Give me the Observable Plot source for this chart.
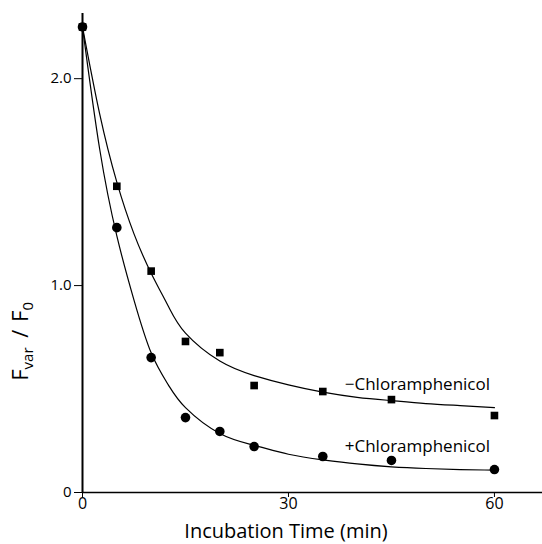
<!DOCTYPE html>
<html>
<head>
<meta charset="utf-8">
<script src="https://cdn.jsdelivr.net/npm/d3@7"></script>
<script src="https://cdn.jsdelivr.net/npm/@observablehq/plot@0.6"></script>
<style>
  body { margin: 0; background: #fff; }
  #chart { width: 542px; height: 544px; }
</style>
</head>
<body>
<div id="chart"></div>
<script>
// Measured points (incubation time in min, Fvar/F0)
const timesMinus = [0, 5, 10, 15, 20, 25, 35, 45, 60];
const valuesMinus = [2.25, 1.48, 1.07, 0.73, 0.676, 0.517, 0.488, 0.449, 0.372];
const timesPlus = [0, 5, 10, 15, 20, 25, 35, 45, 60];
const valuesPlus = [2.25, 1.28, 0.652, 0.362, 0.295, 0.222, 0.174, 0.155, 0.111];

// Fitted curves
const curveTimes = [0, 2.5, 5, 7.5, 10, 12.5, 15, 20, 25, 30, 35, 40, 45, 50, 55, 60];
const curveMinus = [2.25, 1.83, 1.50, 1.25, 1.06, 0.90, 0.77, 0.635, 0.565, 0.52, 0.485, 0.46, 0.444, 0.43, 0.42, 0.41];
const curvePlus  = [2.25, 1.66, 1.24, 0.93, 0.675, 0.52, 0.41, 0.285, 0.228, 0.185, 0.158, 0.138, 0.124, 0.116, 0.111, 0.108];

// Series labels
const labelTexts = ["\u2212Chloramphenicol", "+Chloramphenicol"];
const labelX = [38.2, 38.2];
const labelY = [0.52, 0.222];

const xTicks = [0, 30, 60];
const yTicks = [0, 1, 2];

const ptsMinus = timesMinus.map((t, i) => ({t, v: valuesMinus[i]}));
const ptsPlus = timesPlus.map((t, i) => ({t, v: valuesPlus[i]}));
const lnMinus = curveTimes.map((t, i) => ({t, v: curveMinus[i]}));
const lnPlus = curveTimes.map((t, i) => ({t, v: curvePlus[i]}));
const labels = labelTexts.map((text, i) => ({text, x: labelX[i], y: labelY[i]}));

const X_MAX = 67, Y_MAX = 2.315;

const plot = Plot.plot({
  width: 542,
  height: 544,
  marginLeft: 82,
  marginRight: 0,
  marginTop: 13,
  marginBottom: 52,
  style: {fontFamily: "'Open Sans', sans-serif", background: "white", color: "black"},
  x: {domain: [0, X_MAX]},
  y: {domain: [0, Y_MAX]},
  marks: [
    Plot.ruleX([0], {y1: 0, y2: Y_MAX, strokeWidth: 2}),
    Plot.ruleY([0], {x1: 0, x2: X_MAX, strokeWidth: 1.6}),
    Plot.axisX({ticks: xTicks, tickFormat: d => String(d), tickSize: 5, tickPadding: 0, fontSize: 16, label: null}),
    Plot.axisY({ticks: yTicks, tickFormat: d => d === 0 ? "0" : d.toFixed(1), tickSize: 8, tickPadding: 3, fontSize: 15, label: null}),
    Plot.line(lnMinus, {x: "t", y: "v", curve: "natural", strokeWidth: 1.2}),
    Plot.line(lnPlus, {x: "t", y: "v", curve: "natural", strokeWidth: 1.2}),
    Plot.dot(ptsMinus, {x: "t", y: "v", symbol: "square", r: 4.3, fill: "black", stroke: "none"}),
    Plot.dot(ptsPlus, {x: "t", y: "v", symbol: "circle", r: 4.8, fill: "black", stroke: "none"}),
    Plot.text(labels, {x: "x", y: "y", text: "text", textAnchor: "start", fontSize: 17})
  ]
});

const svg = d3.select(plot);
// x axis title
svg.append("text")
  .attr("x", 286).attr("y", 538)
  .attr("text-anchor", "middle")
  .attr("font-size", 20)
  .attr("font-family", "'Open Sans', sans-serif")
  .attr("fill", "black")
  .text("Incubation Time (min)");

// y axis title with subscripts
const yt = svg.append("text")
  .attr("transform", "translate(28,302) rotate(-90)")
  .attr("text-anchor", "end")
  .attr("font-size", 22)
  .attr("font-family", "'Open Sans', sans-serif")
  .attr("fill", "black");
yt.append("tspan").text("F");
yt.append("tspan").attr("font-size", 15).attr("dy", 5).text("var");
yt.append("tspan").attr("dy", -5).attr("dx", 4).text(" / ");
yt.append("tspan").attr("dx", 2).text("F");
yt.append("tspan").attr("font-size", 15).attr("dy", 5).text("0");

document.getElementById("chart").appendChild(plot);
</script>
</body>
</html>
